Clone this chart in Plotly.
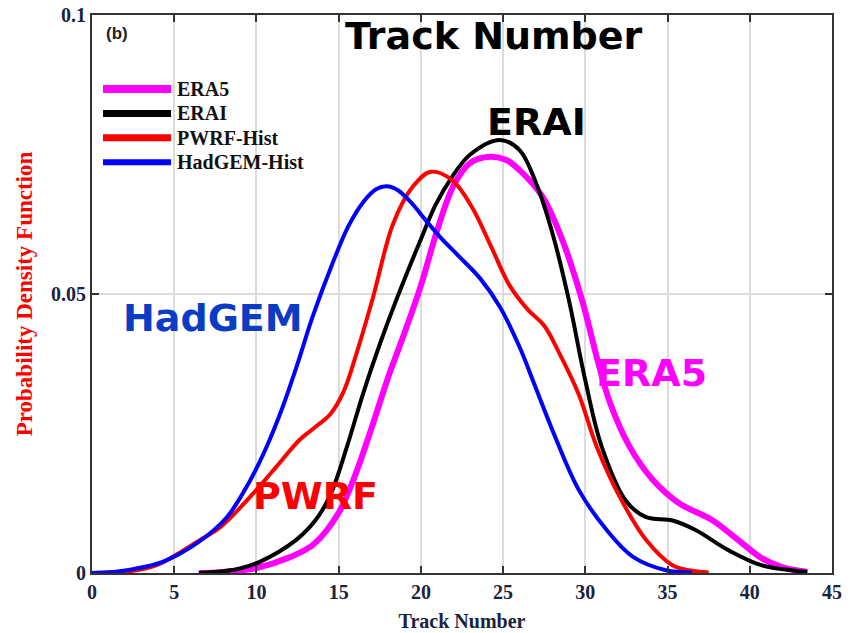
import plotly.graph_objects as go

# ---------------- data ----------------
era5_x = [6.5, 8, 10, 12, 13.5, 15, 16, 17, 18, 19, 20, 21, 22, 23, 24.2, 25.2, 26,
          27.4, 28.6, 29.8, 30.8, 31.5, 32.7, 34.1, 35.7, 37.7, 39.3, 40.7, 42.0, 43.5]
era5_y = [0, 0.0002, 0.0009, 0.0028, 0.0052, 0.0108, 0.0175, 0.0260, 0.0350, 0.0430,
          0.0515, 0.0615, 0.0695, 0.0735, 0.0746, 0.0740, 0.0722, 0.0674, 0.0597, 0.0489,
          0.0375, 0.0305, 0.0226, 0.0167, 0.0125, 0.0095, 0.0059, 0.0027, 0.0010, 0.0002]

erai_x = [6.5, 8, 9, 10.2, 12.4, 13.6, 14.5, 15.5, 16.5, 17.5, 18.5, 19.9, 20.9, 21.9, 23,
          24.8, 26, 27, 28, 29, 30, 31, 32.5, 33.7, 35.3, 36.7, 38.7, 40.7, 42.8, 43.5]
erai_y = [0, 0.0003, 0.0008, 0.0020, 0.0059, 0.0095, 0.0140, 0.0226, 0.0323, 0.0410,
          0.0489, 0.0591, 0.0660, 0.0710, 0.0750, 0.0776, 0.0758, 0.0699, 0.0609, 0.0489,
          0.0345, 0.0226, 0.0128, 0.0100, 0.0094, 0.0077, 0.0041, 0.0014, 0.0004, 0.0002]

pwrf_x = [0, 2.3, 4, 5.3, 6.5, 7.8, 10, 11.4, 12.6, 13.6, 14.5, 15.3, 16.1, 17.1, 18.3,
          19.5, 20.6, 21.9, 23.1, 24.3, 25.4, 26.5, 27.5, 28.4, 29.6, 30.7, 32.1, 33.7,
          35.3, 36.5, 37.5]
pwrf_y = [0, 0.0003, 0.0015, 0.0036, 0.0058, 0.0082, 0.0149, 0.0197, 0.0238, 0.0262,
          0.0285, 0.0325, 0.0395, 0.0495, 0.0625, 0.0692, 0.0719, 0.0704, 0.0656, 0.0583,
          0.0515, 0.0472, 0.0443, 0.0395, 0.0320, 0.0226, 0.0136, 0.0059, 0.0014, 0.0004,
          0.0001]

hadgem_x = [0, 1.3, 2.5, 4.3, 6.4, 8.2, 9.6, 10.6, 11.6, 12.5, 13.4, 14.6, 15.6, 16.5,
            17.3, 17.9, 18.6, 19.4, 20.3, 21.2, 22.3, 23.6, 24.8, 26, 26.8, 28, 29.6, 31.3,
            32.9, 34.9, 36.5]
hadgem_y = [0, 0.0002, 0.0007, 0.0020, 0.0054, 0.0100, 0.0165, 0.0225, 0.0298, 0.0375,
            0.0458, 0.0553, 0.0622, 0.0665, 0.0688, 0.0693, 0.0686, 0.0664, 0.0632, 0.0601,
            0.0568, 0.0528, 0.0477, 0.0405, 0.0346, 0.0256, 0.0149, 0.0077, 0.0029, 0.0005,
            0.0001]

series_names = ["ERA5", "ERAI", "PWRF-Hist", "HadGEM-Hist"]
series_x = [era5_x, erai_x, pwrf_x, hadgem_x]
series_y = [era5_y, erai_y, pwrf_y, hadgem_y]
series_colors = ["#ff00ff", "#000000", "#ff0000", "#0000ff"]
series_widths = [6, 4, 4, 4]
legend_widths = [8, 7, 7, 6]

x_ticks = [0, 5, 10, 15, 20, 25, 30, 35, 40, 45]
y_ticks = [0, 0.05, 0.1]
y_tick_text = ["0", "0.05", "0.1"]

labels = ["Track Number", "ERAI", "HadGEM", "ERA5", "PWRF"]
label_x = [24.45, 27.06, 7.36, 34.0, 13.62]
label_y = [0.0962, 0.0808, 0.0457, 0.0358, 0.0138]
label_colors = ["#000000", "#000000", "#0a3cc6", "#ff00ff", "#ff0000"]

# ---------------- figure ----------------
fig = go.Figure()
for i in [0, 1, 2, 3]:
    fig.add_trace(go.Scatter(
        x=series_x[i], y=series_y[i], mode="lines", name=series_names[i],
        line=dict(color=series_colors[i], width=series_widths[i], shape="spline", smoothing=1.0),
        showlegend=False, hoverinfo="skip"))

# custom legend (long line samples like the reference)
leg_y0 = 0.8674
leg_dy = 0.0437
for i, name in enumerate(series_names):
    yy = leg_y0 - i * leg_dy
    fig.add_shape(type="line", xref="paper", yref="paper", x0=0.0149, x1=0.1068, y0=yy, y1=yy,
                  line=dict(color=series_colors[i], width=legend_widths[i]))
    fig.add_annotation(xref="paper", yref="paper", x=0.1122, y=yy, text=name, showarrow=False,
                       xanchor="left", yanchor="middle",
                       font=dict(family="Liberation Serif", size=20, color="#111111", weight="bold"))

for t, xx, yy, c in zip(labels, label_x, label_y, label_colors):
    fig.add_annotation(x=xx, y=yy, text=t, showarrow=False, xanchor="center", yanchor="middle",
                       font=dict(family="DejaVu Sans", size=38, color=c, weight="bold"))

fig.add_annotation(xref="paper", yref="paper", x=0.0338, y=0.9677, text="(b)", showarrow=False,
                   xanchor="center", yanchor="middle",
                   font=dict(family="Liberation Sans", size=17, color="#222222", weight="bold"))

tick_font = dict(family="Liberation Serif", size=20, color="#1a2340", weight="bold")
fig.update_xaxes(range=[0, 45], tickvals=x_ticks, ticktext=[str(v) for v in x_ticks],
                 showgrid=True, gridcolor="#dcdcdc", gridwidth=2, zeroline=False,
                 showline=True, linecolor="#333333", linewidth=2, mirror="ticks",
                 ticks="inside", ticklen=7, tickwidth=2, tickcolor="#333333",
                 tickfont=tick_font, automargin=False,
                 title=dict(text="Track Number", standoff=12,
                            font=dict(family="Liberation Serif", size=20, color="#1a2340", weight="bold")))
fig.update_yaxes(range=[0, 0.1], tickvals=y_ticks, ticktext=y_tick_text,
                 showgrid=True, gridcolor="#dcdcdc", gridwidth=2, zeroline=False,
                 showline=True, linecolor="#333333", linewidth=2, mirror="ticks",
                 ticks="inside", ticklen=7, tickwidth=2, tickcolor="#333333",
                 tickfont=tick_font, automargin=False,
                 title=dict(text="Probability Density Function", standoff=12,
                            font=dict(family="Liberation Serif", size=23, color="#ff0000", weight="bold")))

fig.update_layout(width=851, height=633, margin=dict(l=92, r=19, t=15, b=60),
                  plot_bgcolor="white", paper_bgcolor="white", showlegend=False)

fig.write_html("out.html")
